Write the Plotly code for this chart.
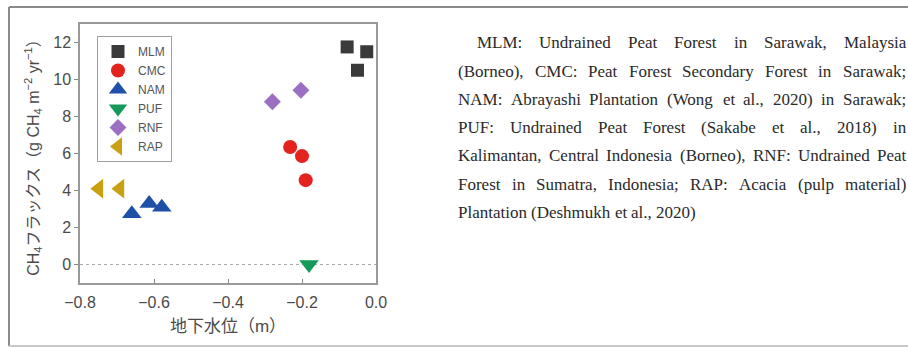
import plotly.graph_objects as go

# ---- data: water table depth (m) vs CH4 flux (g CH4 m-2 yr-1) ----
site_names = ["MLM", "CMC", "NAM", "PUF", "RNF", "RAP"]
mlm_x = [-0.078, -0.050, -0.025]
mlm_y = [11.76, 10.50, 11.50]
cmc_x = [-0.232, -0.200, -0.190]
cmc_y = [6.35, 5.86, 4.56]
nam_x = [-0.660, -0.613, -0.579]
nam_y = [2.75, 3.30, 3.10]
puf_x = [-0.181]
puf_y = [0.0]
rnf_x = [-0.280, -0.203]
rnf_y = [8.80, 9.42]
rap_x = [-0.749, -0.692]
rap_y = [4.10, 4.10]

x_ticks = [-0.8, -0.6, -0.4, -0.2, 0.0]
x_tick_text = ["\u22120.8", "\u22120.6", "\u22120.4", "\u22120.2", "0.0"]
y_ticks = [0, 2, 4, 6, 8, 10, 12]

caption_lines = [
    "MLM: Undrained Peat Forest in Sarawak, Malaysia",
    "(Borneo), CMC: Peat Forest Secondary Forest in Sarawak;",
    "NAM: Abrayashi Plantation (Wong et al., 2020) in Sarawak;",
    "PUF: Undrained Peat Forest (Sakabe et al., 2018) in",
    "Kalimantan, Central Indonesia (Borneo), RNF: Undrained Peat",
    "Forest in Sumatra, Indonesia; RAP: Acacia (pulp material)",
    "Plantation (Deshmukh et al., 2020)",
]

series = [
    (mlm_x, mlm_y, "square", "#3a3a3a", 13),
    (cmc_x, cmc_y, "circle", "#e5231e", 14),
    (nam_x, nam_y, "triangle-up", "#1e50a8", 17),
    (puf_x, puf_y, "triangle-down", "#169a5a", 17),
    (rnf_x, rnf_y, "diamond", "#9b70c2", 13),
    (rap_x, rap_y, "triangle-left", "#c9a012", 17),
]

# ---- page geometry (pixels) ----
W_PX, H_PX = 908, 347
PL, PR, PT, PB = 80, 376, 24, 283   # plot box


def px2x(px):
    return (px - PL) / (PR - PL)


def py2y(py):
    return (PB - py) / (PB - PT)


SANS = "Liberation Sans, Arial, Noto Sans CJK JP, sans-serif"
CJK = "Liberation Sans, Noto Sans CJK JP, sans-serif"
SERIF = "Liberation Serif, Times New Roman, serif"

fig = go.Figure()
for (xs, ys, sym, col, sz), name in zip(series, site_names):
    fig.add_trace(go.Scatter(
        x=xs, y=ys, mode="markers", name=name,
        marker=dict(symbol=sym, size=sz, color=col, line=dict(width=0)),
    ))

# zero-flux reference line
fig.add_shape(type="line", xref="paper", yref="y", x0=0, x1=1, y0=0, y1=0,
              line=dict(color="#aaaaaa", width=1.2, dash="dot"), layer="below")

# outer frame around chart + caption
fig.add_shape(type="line", xref="paper", yref="paper",
              x0=px2x(9), x1=px2x(910), y0=py2y(7), y1=py2y(7),
              line=dict(color="#8a8a8a", width=2))
fig.add_shape(type="line", xref="paper", yref="paper",
              x0=px2x(9), x1=px2x(9), y0=py2y(7), y1=py2y(346),
              line=dict(color="#8a8a8a", width=2))
fig.add_shape(type="line", xref="paper", yref="paper",
              x0=px2x(9), x1=px2x(910), y0=py2y(346), y1=py2y(346),
              line=dict(color="#c8c8c8", width=2))

# ---- justified caption text (Times metrics) ----
TIMES = {
    " ": 250, "!": 333, "(": 333, ")": 333, ",": 250, ".": 250, ":": 278, ";": 278,
    "A": 722, "B": 667, "C": 667, "D": 722, "E": 611, "F": 556, "G": 722, "H": 722,
    "I": 333, "J": 389, "K": 722, "L": 611, "M": 889, "N": 722, "O": 722, "P": 556,
    "Q": 722, "R": 667, "S": 556, "T": 611, "U": 722, "V": 722, "W": 944, "X": 722,
    "Y": 722, "Z": 611,
    "a": 444, "b": 500, "c": 444, "d": 500, "e": 444, "f": 333, "g": 500, "h": 500,
    "i": 278, "j": 278, "k": 500, "l": 278, "m": 778, "n": 500, "o": 500, "p": 500,
    "q": 500, "r": 333, "s": 389, "t": 278, "u": 500, "v": 500, "w": 722, "x": 500,
    "y": 500, "z": 444,
}
CAP_SIZE = 17
CAP_LEFT, CAP_RIGHT, CAP_INDENT = 457, 905, 19
CAP_TOP, CAP_STEP = 43, 28.2


def word_w(word):
    return sum(TIMES.get(c, 500) for c in word) * CAP_SIZE / 1000.0


annotations = []
for i, line in enumerate(caption_lines):
    words = line.split()
    left = CAP_LEFT + (CAP_INDENT if i == 0 else 0)
    if i < len(caption_lines) - 1 and len(words) > 1:
        gap = (CAP_RIGHT - left - sum(word_w(w) for w in words)) / (len(words) - 1)
    else:
        gap = TIMES[" "] * CAP_SIZE / 1000.0
    xpos = left
    for w in words:
        annotations.append(dict(
            text=w, xref="paper", yref="paper", x=px2x(xpos), y=py2y(CAP_TOP + i * CAP_STEP),
            xanchor="left", yanchor="middle", showarrow=False, borderpad=0,
            font=dict(family=SERIF, size=CAP_SIZE, color="#2a2a2a"),
        ))
        xpos += word_w(w) + gap

fig.update_layout(
    width=W_PX, height=H_PX,
    margin=dict(l=PL, r=W_PX - PR, t=PT, b=H_PX - PB, pad=0),
    paper_bgcolor="white", plot_bgcolor="white",
    font=dict(family=SANS, color="#444444"),
    showlegend=True,
    legend=dict(
        x=px2x(97), y=py2y(36), xanchor="left", yanchor="top",
        bgcolor="white", bordercolor="#a0a0a0", borderwidth=1,
        font=dict(family=SANS, size=12, color="#555555"),
        tracegroupgap=0, itemsizing="trace", itemwidth=30,
    ),
    annotations=annotations,
    xaxis=dict(
        range=[-0.8, 0.0], tickvals=x_ticks, ticktext=x_tick_text,
        ticks="inside", ticklen=4, tickcolor="#888888",
        showgrid=False, zeroline=False,
        showline=True, linecolor="#999999", linewidth=1.5, mirror=True,
        tickfont=dict(family=SANS, size=16, color="#4a4a4a"),
        ticklabelstandoff=4,
        title=dict(text="地下水位（m）", font=dict(family=CJK, size=17, color="#4a4a4a"), standoff=10),
    ),
    yaxis=dict(
        range=[-1, 13], tickvals=y_ticks,
        ticks="outside", ticklen=4, tickcolor="#888888",
        showgrid=False, zeroline=False,
        showline=True, linecolor="#999999", linewidth=1.5, mirror=True,
        tickfont=dict(family=SANS, size=16, color="#4a4a4a"),
        title=dict(
            text="CH<sub>4</sub>フラックス（g CH<sub>4</sub> m<sup>−2</sup> yr<sup>−1</sup>）",
            font=dict(family=CJK, size=16, color="#4a4a4a"), standoff=10,
        ),
    ),
)

fig.write_html("out.html")
